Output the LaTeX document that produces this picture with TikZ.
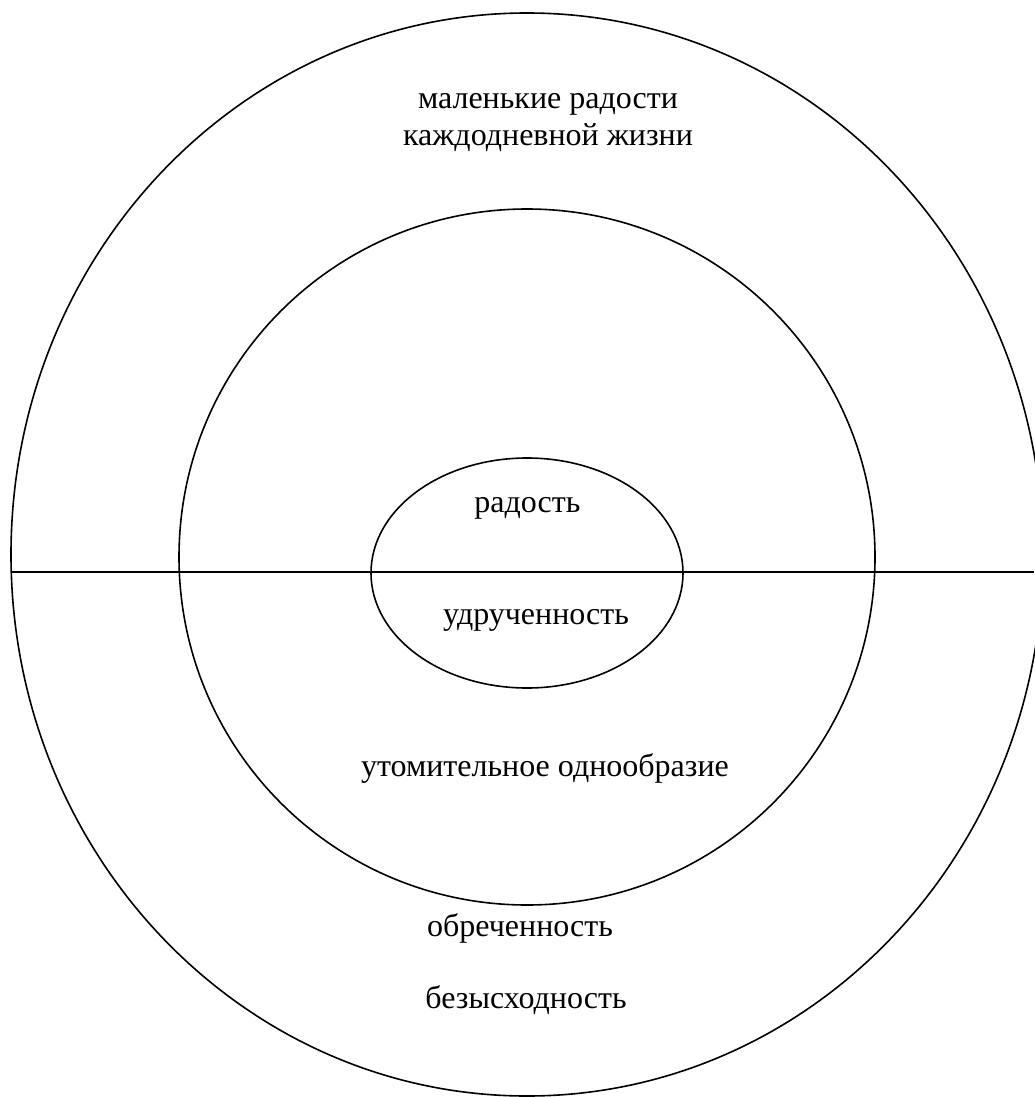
\documentclass[tikz,border=0pt]{standalone}
\usepackage{fontspec}
\setmainfont{Liberation Serif}
\usetikzlibrary{shapes.geometric}
\tikzset{
  ring/.style={draw, line width=1.6pt, inner sep=0pt},
  lbl/.style={anchor=base, inner sep=0pt, font=\fontsize{32}{38}\selectfont},
}
\begin{document}
\begin{tikzpicture}[x=1pt,y=-1pt]
\useasboundingbox (0,0) rectangle (1034,1097);
\node[ring, ellipse, minimum width=1032pt, minimum height=1083pt] (outer) at (527,554.5) {};
\node[ring, circle, minimum size=696pt] (middle) at (527,557) {};
\node[ring, ellipse, minimum width=312pt, minimum height=230pt] (inner) at (527,573) {};
\coordinate (L) at (11,572);
\coordinate (R) at (1034,572);
\coordinate (T) at (11,523);
\draw[line width=1.6pt] (L) -- (R);
\draw[line width=1pt] (T) -- (L);
\node[lbl] (t1) at (548,109) {маленькие радости};
\node[lbl] (t2) at (548,146) {каждодневной жизни};
\node[lbl] (t3) at (527.5,512) {радость};
\node[lbl] (t4) at (536,624) {удрученность};
\node[lbl] (t5) at (545,776) {утомительное однообразие};
\node[lbl] (t6) at (520,936) {обреченность};
\node[lbl] (t7) at (526,1008) {безысходность};
\end{tikzpicture}
\end{document}
